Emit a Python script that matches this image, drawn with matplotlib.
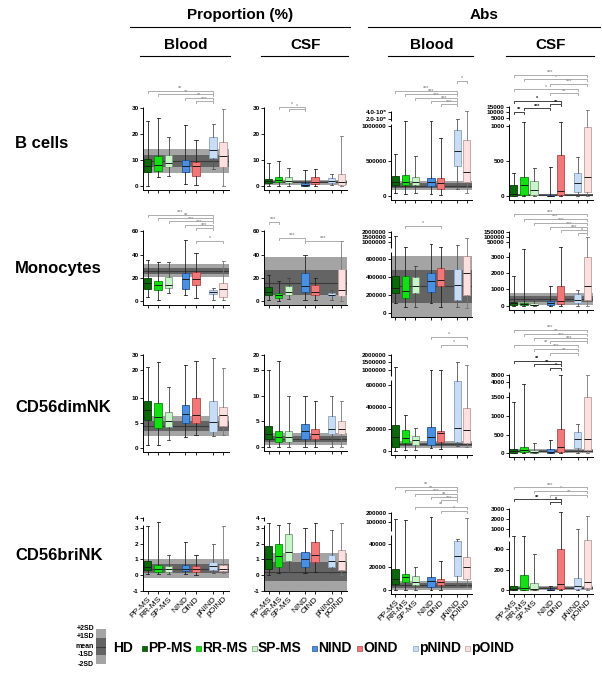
import numpy as np
import matplotlib.pyplot as plt
from matplotlib.transforms import blended_transform_factory

plt.rcParams['font.family'] = ['Liberation Sans', 'DejaVu Sans']
plt.rcParams['font.weight'] = 'bold'

# ---------------- data ----------------
groups = ['PP-MS', 'RR-MS', 'SP-MS', 'NIND', 'OIND', 'pNIND', 'pOIND']
cell_types = ['B cells', 'Monocytes', 'CD56dimNK', 'CD56briNK']
measures = ['Proportion (%)', 'Abs']
sources = ['Blood', 'CSF', 'Blood', 'CSF']

# box stats per group: [low whisker, Q1, median, Q3, high whisker]
b_prop_blood = [[0, 5.4, 7.7, 10.4, 25], [3.5, 5.8, 8, 11.5, 26], [3.8, 7.3, 9, 12, 19],
                [0.8, 5.4, 7.7, 10, 23.5], [0.3, 3.8, 7.6, 9.4, 17.7], [6.7, 10.8, 14, 19, 24],
                [0, 7.3, 11.7, 17, 29.6]]
b_prop_csf = [[0, 1.1, 2, 2.7, 8.8], [0, 1.5, 2.5, 3.5, 9.7], [0, 1.2, 2, 3.5, 6.9],
              [0, 0, 0.5, 1.3, 6], [0, 0.8, 1.5, 3.3, 6.4], [0.5, 1, 2, 3, 4.8],
              [0, 0.5, 1.5, 4.5, 19.3]]
b_abs_blood = [[50000, 157000, 200000, 286000, 600000], [30000, 157000, 200000, 300000, 1700000],
               [50000, 157000, 200000, 270000, 570000], [30000, 143000, 200000, 257000, 1700000],
               [20000, 100000, 190000, 257000, 830000], [100000, 430000, 643000, 943000, 2000000],
               [50000, 200000, 343000, 800000, 4300000]]
b_abs_csf = [[0, 5, 30, 157, 333], [0, 20, 157, 276, 3150], [0, 10, 80, 214, 400],
             [0, 0, 5, 20, 419], [0, 10, 70, 586, 3150], [0, 60, 186, 330, 557],
             [0, 60, 276, 990, 12000]]

mono_prop_blood = [[3.4, 10.2, 15.3, 20.2, 35.7], [0.5, 9.4, 13.6, 17, 33.5], [7, 11, 13.6, 21, 33.8],
                   [5, 10.2, 18.8, 24, 52.2], [2.8, 14.2, 19.3, 25.5, 41.7], [0.5, 6.2, 7.8, 9.4, 11],
                   [1, 3.7, 10.2, 15.6, 34.7]]
mono_prop_csf = [[1, 5, 8, 12, 23], [0, 3, 5, 7, 17], [2, 5, 8, 13, 20], [1, 8, 13, 24, 40],
                 [1, 5, 8, 14, 20], [1, 4, 5, 7, 10], [0, 4, 10, 28, 52]]
mono_abs_blood = [[111000, 226000, 278000, 411000, 1600000], [67000, 170000, 244000, 411000, 890000],
                  [67000, 222000, 300000, 395000, 522000], [111000, 237000, 355000, 444000, 960000],
                  [67000, 300000, 367000, 503000, 880000], [70000, 144000, 311000, 489000, 930000],
                  [55000, 200000, 444000, 678000, 1400000]]
mono_abs_csf = [[0, 60, 150, 260, 1820], [0, 60, 120, 200, 28000], [0, 30, 80, 150, 420],
                [0, 60, 200, 300, 1170], [0, 100, 300, 1170, 35000], [0, 180, 350, 730, 970],
                [0, 360, 1170, 3230, 100000]]

dim_prop_blood = [[0.6, 5.6, 7.6, 9.5, 22], [0.6, 4, 6.2, 9, 25], [1.7, 4.3, 5.4, 7.3, 14],
                  [2.3, 5, 6.8, 8.6, 23], [2.7, 5, 6.6, 10, 26], [2.5, 3.2, 5.3, 9.5, 28],
                  [2.6, 4.5, 6.6, 8.2, 21]]
dim_prop_csf = [[0, 1.5, 2.5, 4, 15], [0, 1, 2, 3, 18], [0, 1, 2, 3, 10], [0, 1.5, 3, 4.5, 10],
                [0, 1.5, 2.5, 3.5, 9], [0, 2.5, 3.5, 6, 10], [0, 2.5, 3.5, 5, 9]]
dim_abs_blood = [[0, 39000, 130000, 236000, 1200000], [10000, 72000, 118000, 190000, 327000],
                 [10000, 55000, 100000, 136000, 209000], [30000, 55000, 130000, 218000, 1000000],
                 [20000, 85000, 160000, 185000, 1000000], [50000, 80000, 209000, 700000, 1500000],
                 [40000, 73000, 191000, 390000, 1300000]]
dim_abs_csf = [[0, 10, 50, 110, 1360], [0, 20, 80, 170, 3600], [0, 10, 40, 80, 290],
               [0, 5, 40, 125, 360], [0, 40, 180, 670, 8000], [0, 130, 390, 580, 800],
               [0, 80, 380, 1550, 8000]]

bri_prop_blood = [[0.05, 0.3, 0.5, 0.9, 3.2], [0.05, 0.2, 0.4, 0.6, 3.6], [0.05, 0.2, 0.35, 0.55, 1.3],
                  [0.05, 0.25, 0.4, 0.6, 2.1], [0, 0.2, 0.35, 0.55, 1.25], [0.1, 0.3, 0.55, 0.8, 2.0],
                  [0.1, 0.25, 0.4, 0.6, 3.2]]
bri_prop_csf = [[0, 0.4, 1.0, 1.9, 3.5], [0.1, 0.5, 1.2, 2.0, 3.3], [0.2, 0.9, 1.5, 2.6, 3.5],
                [0.1, 0.5, 1.0, 1.5, 3.0], [0.2, 0.8, 1.3, 2.1, 3.5], [0.1, 0.5, 0.9, 1.3, 2.9],
                [0, 0.3, 0.9, 1.6, 3.5]]
bri_abs_blood = [[0, 5000, 10000, 18000, 130000], [0, 7000, 11000, 14000, 120000],
                 [0, 4000, 7000, 12000, 20000], [0, 3000, 8000, 11000, 160000],
                 [0, 4000, 7000, 10000, 25000], [4000, 12000, 30000, 47000, 55000],
                 [3000, 10000, 20000, 29000, 150000]]
bri_abs_csf = [[0, 0, 10, 40, 790], [0, 0, 20, 150, 790], [0, 0, 10, 70, 350], [0, 0, 5, 15, 40],
               [0, 10, 60, 400, 2700], [0, 10, 40, 120, 1000], [0, 20, 80, 670, 2300]]

# healthy donors: (mean, SD)
hd_values = [[(9.7, 2.3), (1.5, 0.5), (150000, 30000), (15, 8)],
             [(26.3, 2.8), (16, 11), (295000, 183000), (420, 180)],
             [(4.4, 1.0), (1.5, 0.6), (60000, 15000), (60, 30)],
             [(0.4, 0.3), (0.2, 0.6), (4000, 2000), (20, 10)]]

# significance brackets: (group a, group b, label, black bracket?)
sig_b = [[(0, 5, '**', 0), (1, 5, '**', 0), (3, 5, '**', 0), (4, 5, '***', 0)],
         [(1, 3, '*', 0), (2, 3, '*', 0)],
         [(5, 6, '*', 0), (0, 5, '***', 0), (1, 5, '***', 0), (2, 5, '***', 0), (3, 5, '***', 0),
          (4, 5, '***', 0)],
         [(0, 6, '***', 0), (1, 6, '*', 0), (3, 6, '***', 0), (0, 5, '*', 0), (3, 5, '**', 0),
          (0, 4, '*', 1), (3, 4, '**', 1), (1, 3, '***', 1), (0, 1, '**', 1)]]
sig_mono = [[(0, 5, '***', 0), (1, 5, '**', 0), (2, 5, '***', 0), (3, 5, '***', 0), (4, 5, '***', 0),
             (4, 6, '*', 0)],
            [(0, 1, '***', 0), (1, 3, '***', 0), (3, 6, '***', 0)],
            [(1, 4, '*', 0)],
            [(0, 6, '***', 0), (1, 6, '***', 0), (2, 6, '***', 0), (3, 6, '***', 0), (4, 6, '***', 0),
             (5, 6, '*', 0)]]
sig_dim = [[], [], [(3, 6, '*', 0), (4, 6, '*', 0)],
           [(0, 6, '***', 0), (1, 6, '**', 0), (2, 6, '***', 0), (3, 6, '***', 0), (0, 5, '**', 0),
            (2, 5, '***', 0), (3, 5, '**', 0), (0, 4, '**', 1), (2, 4, '**', 1), (3, 4, '*', 1)]]
sig_bri = [[], [],
           [(0, 5, '**', 0), (1, 5, '**', 0), (2, 5, '***', 0), (3, 5, '**', 0), (4, 5, '***', 0),
            (2, 6, '**', 0), (4, 6, '*', 0)],
           [(0, 6, '***', 0), (2, 6, '*', 0), (3, 6, '**', 0), (0, 4, '**', 1), (3, 4, '*', 1)]]

# y-axis ticks
yticks = [[[0, 10, 20, 30], [0, 10, 20, 30], [0, 500000, 1000000, 2e6, 4e6],
           [0, 500, 1000, 5000, 10000, 15000]],
          [[0, 20, 40, 60], [0, 20, 40, 60], [0, 200000, 400000, 600000, 1000000, 1500000, 2000000],
           [0, 1000, 2000, 3000, 50000, 100000, 150000]],
          [[0, 5, 10, 20, 30], [0, 5, 10, 15, 20],
           [0, 200000, 400000, 600000, 1000000, 1500000, 2000000], [0, 500, 1000, 1500, 4000, 8000]],
          [[-1, 0, 1, 2, 3, 4], [-1, 0, 1, 2, 3, 4], [0, 20000, 40000, 100000, 200000],
           [0, 200, 400, 1000, 2000, 3000]]]
b_abs_blood_ticklabels = ['0', '500000', '1000000', '2.0\u00b710\u2076', '4.0\u00b710\u2076']

box_data = [[b_prop_blood, b_prop_csf, b_abs_blood, b_abs_csf],
            [mono_prop_blood, mono_prop_csf, mono_abs_blood, mono_abs_csf],
            [dim_prop_blood, dim_prop_csf, dim_abs_blood, dim_abs_csf],
            [bri_prop_blood, bri_prop_csf, bri_abs_blood, bri_abs_csf]]
sig_data = [sig_b, sig_mono, sig_dim, sig_bri]

# ---------------- layout / style ----------------
W, H = 602, 674
POS = [1, 2, 3, 4.6, 5.6, 7.25, 8.2]
FACE = ['#0a6a0a', '#12e012', '#c8f5c8', '#4a8fe0', '#f07878', '#c8dcf4', '#fbe0e0']
EDGE = ['#043d04', '#0a8a0a', '#7a9a7a', '#24569a', '#b04848', '#8aa2c4', '#c09c9c']
WHISK = ['#222222', '#222222', '#444444', '#222222', '#222222', '#555555', '#777777']
HD_LIGHT, HD_DARK, HD_MEAN = '#a4a4a4', '#646464', '#3a3a3a'
COL_X = [(143, 229), (264, 347), (391, 472), (509, 593)]
# pixel rows of each y tick (image coordinates)
TICK_PX = [[[186, 160, 134, 108], [186, 160, 134, 108], [196, 161, 126, 119, 112],
            [196, 161, 126, 118, 112, 107]],
           [[301, 278, 255, 231], [301, 278, 255, 231], [313, 295, 277, 259, 242, 237, 232],
            [306, 289, 273, 257, 242, 237, 232]],
           [[448, 423, 398, 370, 355], [447, 421, 396, 370, 355],
            [451, 429, 407, 385, 370, 362, 355], [453, 435, 416, 397, 382, 375]],
           [[591, 575, 559, 544, 528, 518], [591, 575, 559, 544, 528, 518],
            [590, 567, 544, 522, 513], [590, 570, 549, 529, 519, 509]]]
# pixel rows where the y axis line is broken
BREAK_PX = [[[], [], [122.5], [122]],
            [[], [], [250], [250]],
            [[], [], [378], [390]],
            [[523], [523], [533], [539]]]
# pixel rows of significance brackets
SIG_PX = [[[91, 94.3, 97.7, 101.3], [106.5, 109], [81, 91, 94, 97.7, 101, 104.3],
           [75, 79.3, 84, 89.3, 93.3, 100.7, 104.3, 108.3, 111.7]],
          [[214.7, 218, 221.3, 224.7, 227.7, 240.7], [222, 238, 241], [226],
           [214.3, 218.5, 222.5, 226.5, 230, 233]],
          [[], [], [337, 345], [330, 334, 337.7, 341, 345, 348.7, 352.7, 361, 364.3, 367.7]],
          [[], [], [487, 490.3, 494, 497, 500.3, 507, 511], [487.3, 491, 495, 499.3, 502]]]
ROW_LABEL_Y = [143, 268, 408, 556]
HEAD_SPAN = [(130, 350), (368, 600)]


def piecewise(vals, pix):
    v = np.asarray(vals, float)
    h = -np.asarray(pix, float)
    s0 = (h[1] - h[0]) / (v[1] - v[0])
    s1 = (h[-1] - h[-2]) / (v[-1] - v[-2])

    def fwd(x):
        x = np.asarray(x, float)
        y = np.interp(x, v, h)
        y = np.where(x < v[0], h[0] + (x - v[0]) * s0, y)
        return np.where(x > v[-1], h[-1] + (x - v[-1]) * s1, y)

    def inv(y):
        y = np.asarray(y, float)
        x = np.interp(y, h, v)
        x = np.where(y < h[0], v[0] + (y - h[0]) / s0, x)
        return np.where(y > h[-1], v[-1] + (y - h[-1]) / s1, x)
    return fwd, inv


fig = plt.figure(figsize=(W / 100, H / 100), dpi=100)

for r in range(4):
    for c in range(4):
        x0, x1 = COL_X[c]
        px = TICK_PX[r][c]
        top = min(px) - 1
        bot = max(px) + (0 if r == 3 and c < 2 else 4)
        ax = fig.add_axes([x0 / W, 1 - bot / H, (x1 - x0) / W, (bot - top) / H])
        fwd, inv = piecewise(yticks[r][c], px)
        ax.set_yscale('function', functions=(fwd, inv))
        ax.set_ylim(float(inv(-bot)), float(inv(-top)))
        ax.set_xlim(0.55, 8.75)

        mean, sd = hd_values[r][c]
        ax.axhspan(mean - 2 * sd, mean + 2 * sd, color=HD_LIGHT, lw=0, zorder=0)
        ax.axhspan(mean - sd, mean + sd, color=HD_DARK, lw=0, zorder=0.5)
        ax.axhline(mean, color=HD_MEAN, lw=0.8, zorder=0.6)

        stats = [dict(whislo=s[0], q1=s[1], med=s[2], q3=s[3], whishi=s[4], fliers=[])
                 for s in box_data[r][c]]
        bp = ax.bxp(stats, positions=POS, widths=0.72, patch_artist=True, showfliers=False,
                    capwidths=0.3, medianprops=dict(color='#1a1a1a', lw=0.7),
                    boxprops=dict(lw=0.6), whiskerprops=dict(lw=0.6), capprops=dict(lw=0.6))
        for i, patch in enumerate(bp['boxes']):
            patch.set_facecolor(FACE[i])
            patch.set_edgecolor(EDGE[i])
            patch.set_zorder(2)
            for k in (2 * i, 2 * i + 1):
                bp['whiskers'][k].set_color(WHISK[i])
                bp['caps'][k].set_color(WHISK[i])
            bp['medians'][i].set_zorder(3)

        ax.set_yticks(yticks[r][c])
        if (r, c) == (0, 2):
            labels = b_abs_blood_ticklabels
        else:
            labels = ['%d' % v for v in yticks[r][c]]
        ax.set_yticklabels(labels, fontsize=4.6)
        ax.set_xticks(POS)
        if r == 3:
            ax.set_xticklabels(groups, rotation=45, ha='right', rotation_mode='anchor',
                               fontsize=6, fontweight='normal')
        else:
            ax.set_xticklabels([])
        ax.tick_params(length=2, width=0.6, pad=1.2)
        for s in ('top', 'right', 'left'):
            ax.spines[s].set_visible(False)
        ax.spines['bottom'].set_linewidth(0.7)
        ax.patch.set_alpha(0)

        # y axis line, with gaps at the breaks
        edges = [bot]
        for b in sorted(BREAK_PX[r][c], reverse=True):
            edges += [b + 1.8, b - 1.8]
        edges.append(top)
        ytrans = blended_transform_factory(ax.transAxes, fig.transFigure)
        for k in range(0, len(edges), 2):
            ax.plot([0, 0], [1 - edges[k] / H, 1 - edges[k + 1] / H], color='black', lw=0.7,
                    transform=ytrans, clip_on=False, solid_capstyle='butt')

        trans = blended_transform_factory(ax.transData, fig.transFigure)
        for (a, b, lab, dark), py in zip(sig_data[r][c], SIG_PX[r][c]):
            col = '#222222' if dark else '#a0a0a0'
            yf = 1 - py / H
            dy = 2 / H
            ax.plot([POS[a], POS[a], POS[b], POS[b]], [yf - dy, yf, yf, yf - dy], color=col,
                    lw=0.6, transform=trans, clip_on=False)
            ax.text((POS[a] + POS[b]) / 2, yf - 0.3 / H, lab, color=col, fontsize=4,
                    ha='center', va='bottom', transform=trans)

# headers with underlines
for k, m in enumerate(measures):
    xa, xb = HEAD_SPAN[k]
    fig.text((xa + xb) / 2 / W, 1 - 15 / H, m, fontsize=11, ha='center', va='center')
    fig.add_artist(plt.Line2D([xa / W, xb / W], [1 - 27 / H, 1 - 27 / H], color='black', lw=0.8))
for c, src in enumerate(sources):
    xa, xb = COL_X[c]
    fig.text((xa + xb) / 2 / W, 1 - 45 / H, src, fontsize=11, ha='center', va='center')
    fig.add_artist(plt.Line2D([(xa - 3) / W, (xb + 1) / W], [1 - 56 / H, 1 - 56 / H],
                              color='black', lw=0.8))
for r, name in enumerate(cell_types):
    fig.text(15 / W, 1 - ROW_LABEL_Y[r] / H, name, fontsize=12, ha='left', va='center')

# legend
lax = fig.add_axes([96 / W, 1 - 664 / H, 10 / W, 35 / H])
lax.set_xlim(0, 1)
lax.set_ylim(-2.2, 2.2)
lax.axhspan(-2.2, 2.2, color=HD_LIGHT, lw=0)
lax.axhspan(-1.1, 1.1, color=HD_DARK, lw=0)
lax.axhline(0, color=HD_MEAN, lw=0.8)
lax.axis('off')
for lab, py in zip(['+2SD', '+1SD', 'mean', '-1SD', '-2SD'], [628, 637, 646, 655, 664]):
    fig.text(94 / W, 1 - py / H, lab, fontsize=5, ha='right', va='center')
fig.text(113 / W, 1 - 648 / H, 'HD', fontsize=10, ha='left', va='center')
LEG_X = [142, 196, 252, 312, 357, 413, 465]
for i, g in enumerate(groups):
    fig.patches.append(plt.Rectangle(((LEG_X[i]) / W, 1 - 651 / H), 5 / W, 5 / H,
                                     transform=fig.transFigure, facecolor=FACE[i],
                                     edgecolor=EDGE[i], lw=0.5))
    fig.text((LEG_X[i] + 6) / W, 1 - 648 / H, g, fontsize=10, ha='left', va='center')

fig.savefig('out.png', dpi=100)
